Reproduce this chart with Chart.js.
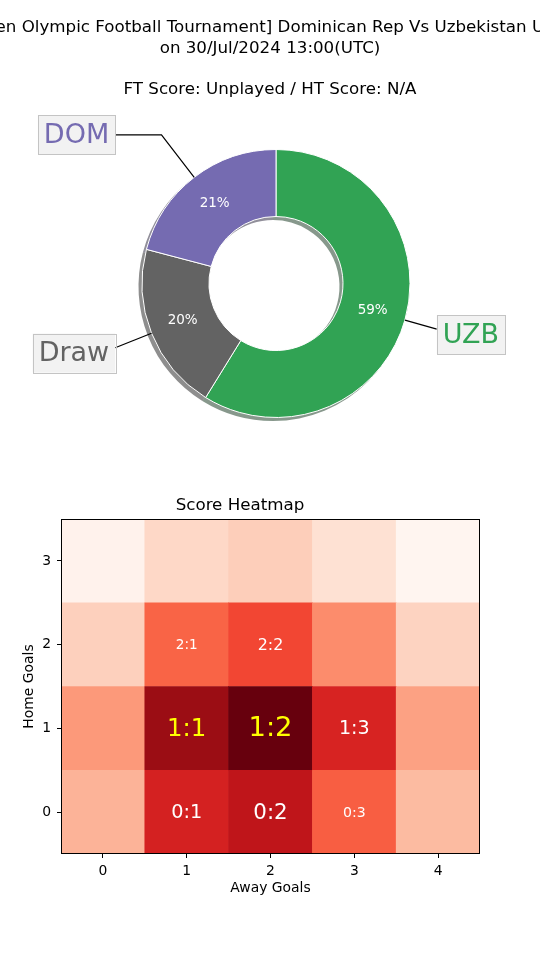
<!DOCTYPE html>
<html>
<head>
<meta charset="utf-8">
<script src="https://cdn.jsdelivr.net/npm/chart.js@4.4.1/dist/chart.umd.min.js"></script>
<style>
  body { margin: 0; background: #fff; }
  canvas { display: block; }
</style>
</head>
<body>
<canvas id="pie" width="540" height="460"></canvas>
<canvas id="heat" width="540" height="500"></canvas>
<script>
// match info
const titleLines = [
  '[Men Olympic Football Tournament] Dominican Rep Vs Uzbekistan U23',
  'on 30/Jul/2024 13:00(UTC)',
  '',
  'FT Score: Unplayed / HT Score: N/A'
];

// outcome shares (%), clockwise from the top
const teams = ['UZB', 'Draw', 'DOM'];
const shares = [58.8, 20.3, 20.9];
const teamColors = ['#31a354', '#636363', '#756bb1'];

// score probabilities (%), rows = home goals, cols = away goals
const awayGoals = ['0', '1', '2', '3', '4'];
const homeGoals = [0, 1, 2, 3];
const scoreProb = [
  [4.0, 9.5, 10.4, 7.2, 3.7],
  [5.0, 11.7, 13.0, 9.4, 4.7],
  [2.8, 7.0, 8.0, 5.5, 2.7],
  [0.8, 2.5, 2.9, 2.1, 0.6]
];
const labelMin = 6;

Chart.defaults.font.family = '"DejaVu Sans"';
Chart.defaults.color = '#000';

const FONT = '"DejaVu Sans"';

function shade(hex) {
  const n = parseInt(hex.slice(1), 16);
  const r = (n >> 16) & 255, g = (n >> 8) & 255, b = n & 255;
  return 'rgba(' + Math.round(r * 0.3) + ',' + Math.round(g * 0.3) + ',' + Math.round(b * 0.3) + ',0.5)';
}

// matplotlib "Reds"
const redsStops = [
  [255, 245, 240], [254, 224, 210], [252, 187, 161], [252, 146, 114], [251, 106, 74],
  [239, 59, 44], [203, 24, 29], [165, 15, 21], [103, 0, 13]
];
function reds(t) {
  t = Math.max(0, Math.min(1, t)) * (redsStops.length - 1);
  const i = Math.min(Math.floor(t), redsStops.length - 2);
  const f = t - i;
  const a = redsStops[i], b = redsStops[i + 1];
  return 'rgb(' + a.map((v, k) => Math.round(v + (b[k] - v) * f)).join(',') + ')';
}

const pieExtras = {
  id: 'pieExtras',
  beforeDatasetsDraw(chart) {
    const ctx = chart.ctx;
    const arcs = chart.getDatasetMeta(0).data;
    ctx.save();
    ctx.translate(-3, 3);
    arcs.forEach((arc, i) => {
      const p = arc.getProps(['x', 'y', 'startAngle', 'endAngle', 'innerRadius', 'outerRadius']);
      ctx.beginPath();
      ctx.arc(p.x, p.y, p.outerRadius + 0.5, p.startAngle, p.endAngle);
      ctx.arc(p.x, p.y, p.innerRadius - 0.5, p.endAngle, p.startAngle, true);
      ctx.closePath();
      ctx.fillStyle = shade(teamColors[i]);
      ctx.fill();
    });
    ctx.restore();
  },
  afterDatasetsDraw(chart) {
    const ctx = chart.ctx;
    const arcs = chart.getDatasetMeta(0).data;
    ctx.save();
    arcs.forEach((arc, i) => {
      const p = arc.getProps(['x', 'y', 'startAngle', 'endAngle', 'outerRadius']);
      const mid = (p.startAngle + p.endAngle) / 2;
      const cos = Math.cos(mid), sin = Math.sin(mid);
      const R = p.outerRadius;

      // percentage inside the wedge
      ctx.font = '13.5px ' + FONT;
      ctx.fillStyle = '#fff';
      ctx.textAlign = 'center';
      ctx.textBaseline = 'middle';
      ctx.fillText(Math.round(shares[i]) + '%', p.x + cos * R * 0.75, p.y + sin * R * 0.75);

      // leader line
      const side = cos < 0 ? -1 : 1;
      const ex = p.x + cos * R, ey = p.y + sin * R;
      const ty = p.y + sin * R * 1.4;
      const edgeX = p.x + side * R * 1.2;
      const kx = ex + cos * ((ty - ey) / sin);
      ctx.strokeStyle = '#000';
      ctx.lineWidth = 1.2;
      ctx.beginPath();
      ctx.moveTo(ex, ey);
      if (side * (kx - edgeX) < 0) {
        ctx.lineTo(kx, ty);
        ctx.lineTo(edgeX, ty);
      } else {
        ctx.lineTo(edgeX, ey + sin * ((edgeX - ex) / cos));
      }
      ctx.stroke();

      // label box
      ctx.font = '27px ' + FONT;
      const w = ctx.measureText(teams[i]).width + 12;
      const bx = side < 0 ? edgeX - w : edgeX;
      ctx.fillStyle = '#f2f2f2';
      ctx.fillRect(bx, ty - 19.5, w, 39);
      ctx.strokeStyle = '#c4c4c4';
      ctx.lineWidth = 1;
      ctx.strokeRect(Math.round(bx) + 0.5, Math.round(ty - 19.5) + 0.5, Math.round(w), 39);
      ctx.fillStyle = teamColors[i];
      ctx.fillText(teams[i], bx + w / 2, ty + 1);
    });
    ctx.restore();
  },
  afterDraw(chart) {
    const ctx = chart.ctx;
    ctx.save();
    ctx.font = '16.7px ' + FONT;
    ctx.fillStyle = '#000';
    ctx.textAlign = 'center';
    ctx.textBaseline = 'middle';
    titleLines.forEach((s, i) => ctx.fillText(s, chart.width / 2, 28 + i * 20.7));
    ctx.restore();
  }
};

new Chart('pie', {
  type: 'doughnut',
  data: {
    labels: teams,
    datasets: [{
      data: shares,
      backgroundColor: teamColors,
      borderColor: '#fff',
      borderWidth: 1
    }]
  },
  options: {
    responsive: false,
    animation: false,
    cutout: '50%',
    layout: { padding: { top: 149, bottom: 42, left: 12, right: 0 } },
    plugins: {
      legend: { display: false },
      tooltip: { enabled: false }
    }
  },
  plugins: [pieExtras]
});

const allProb = scoreProb.flat();
const pMin = Math.min(...allProb), pMax = Math.max(...allProb);
const secondBest = allProb.slice().sort((a, b) => b - a)[1];

const heatExtras = {
  id: 'heatExtras',
  afterDatasetsDraw(chart) {
    const ctx = chart.ctx;
    const a = chart.chartArea;
    ctx.save();
    ctx.textAlign = 'center';
    ctx.textBaseline = 'middle';
    homeGoals.forEach((h, r) => {
      chart.getDatasetMeta(r).data.forEach((bar, c) => {
        const p = scoreProb[r][c];
        if (p < labelMin) return;
        const b = bar.getProps(['x', 'y', 'base']);
        ctx.font = (p * 2.3 - 2.5).toFixed(1) + 'px ' + FONT;
        ctx.fillStyle = p >= secondBest ? '#ffff00' : '#ffffff';
        ctx.fillText(h + ':' + awayGoals[c], b.x, (b.y + b.base) / 2 + 1);
      });
    });
    ctx.strokeStyle = '#000';
    ctx.lineWidth = 1;
    ctx.strokeRect(Math.round(a.left) + 0.5, Math.round(a.top) + 0.5,
      Math.round(a.right - a.left) - 1, Math.round(a.bottom - a.top) - 1);
    ctx.restore();
  }
};

const tickFont = { size: 13.9 };

new Chart('heat', {
  type: 'bar',
  data: {
    labels: awayGoals,
    datasets: homeGoals.map((h, r) => ({
      label: 'Home ' + h,
      data: awayGoals.map(() => [h - 0.5, h + 0.5]),
      backgroundColor: scoreProb[r].map(p => reds((p - pMin) / (pMax - pMin))),
      borderWidth: 0,
      grouped: false,
      categoryPercentage: 1,
      barPercentage: 1
    }))
  },
  options: {
    responsive: false,
    animation: false,
    layout: { padding: { top: 0, bottom: 59, left: 0, right: 60 } },
    scales: {
      x: {
        offset: true,
        grid: { offset: false, drawOnChartArea: false, tickLength: 4, color: '#000' },
        border: { display: false },
        ticks: { font: tickFont, color: '#000', padding: 5 },
        title: { display: true, text: 'Away Goals', font: tickFont, color: '#000', padding: { top: 0, bottom: 4 } },
        afterFit: s => { s.height = 47; }
      },
      y: {
        type: 'linear',
        min: -0.5,
        max: 3.5,
        afterBuildTicks: s => { s.ticks = homeGoals.map(v => ({ value: v })); },
        grid: { drawOnChartArea: false, tickLength: 4, color: '#000' },
        border: { display: false },
        ticks: { font: tickFont, color: '#000', padding: 6, callback: v => v },
        title: { display: true, text: 'Home Goals', font: tickFont, color: '#000', padding: { top: 21, bottom: 0 } },
        afterFit: s => { s.width = 61; }
      }
    },
    plugins: {
      legend: { display: false },
      tooltip: { enabled: false },
      title: {
        display: true,
        text: 'Score Heatmap',
        color: '#000',
        font: { size: 16.7, weight: 'normal' },
        padding: { top: 35.5, bottom: 3.5 }
      }
    }
  },
  plugins: [heatExtras]
});
</script>
</body>
</html>
